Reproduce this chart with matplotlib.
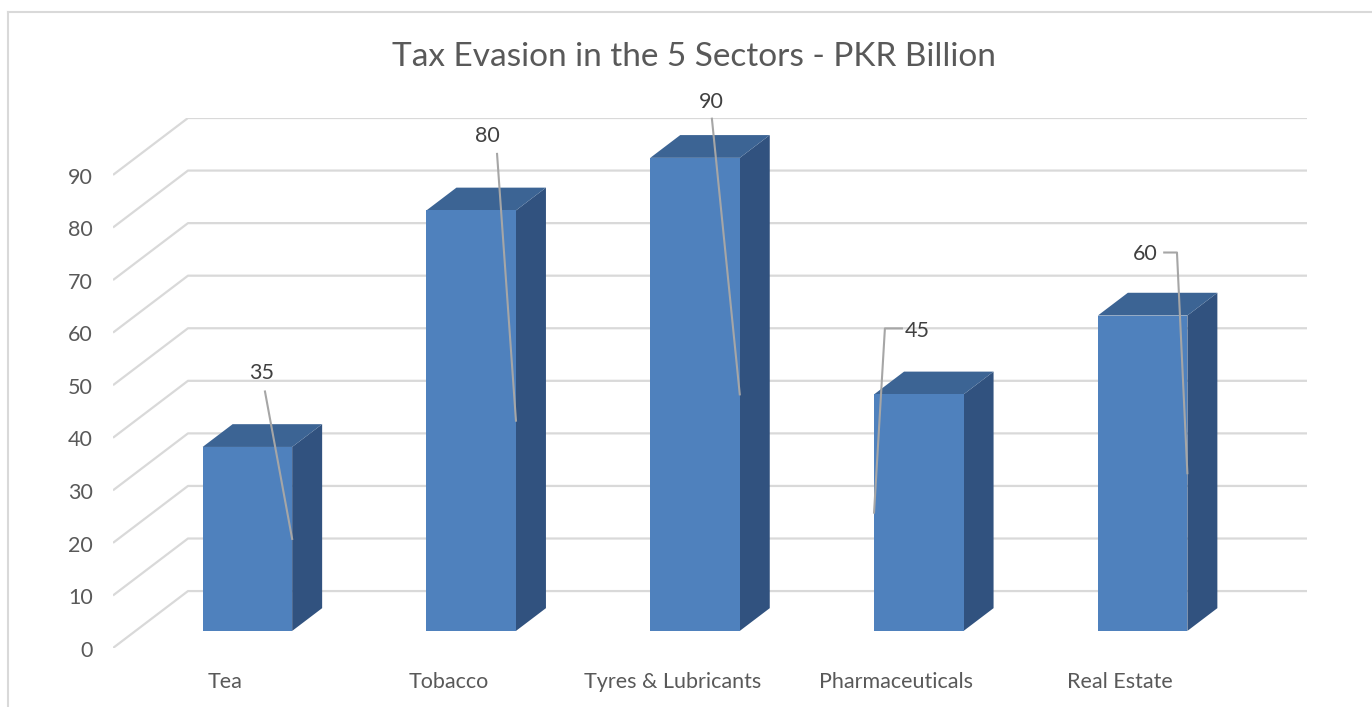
import matplotlib.pyplot as plt
from matplotlib.patches import Polygon

plt.rcParams['font.family'] = ['Lato', 'DejaVu Sans']

# data
sectors = ['Tea', 'Tobacco', 'Tyres & Lubricants', 'Pharmaceuticals', 'Real Estate']
evasion = [35, 80, 90, 45, 60]
ticks = list(range(0, 100, 10))

# where the data labels were dragged to (data coords) and their leader elbows
label_pos = [(0.666, 52.3), (1.671, 97.4), (2.672, 103.8), (3.592, 60.4), (4.611, 75.0)]
leader_top = [[(0.679, 48.8)], [(1.716, 94.0)], [(2.676, 100.7)],
              [(3.525, 60.8), (3.449, 60.8)], [(4.697, 75.24), (4.754, 75.24)]]
leader_side = ['right', 'right', 'right', 'left', 'right']

# oblique "3d" depth vector, in data units
DX, DY = 0.335, 10.83
Z0, Z1 = 0.3, 0.7
BW = 0.4

front_c = '#4F81BD'
top_c = '#3C6494'
side_c = '#31527F'
grid_c = '#D9D9D9'
text_c = '#595959'

fig = plt.figure(figsize=(13.72, 7.07), dpi=100)
ax = fig.add_axes([113 / 1372, 59 / 707, 1194 / 1372, 530 / 707])
ax.set_xlim(0, 5 + DX)
ax.set_ylim(0, 90 + DY)
ax.axis('off')

# frame of the chart area (cut off on the right and bottom)
fig.add_artist(plt.Line2D([8 / 1372, 8 / 1372], [0, 1 - 12 / 707], color=grid_c, lw=1.5))
fig.add_artist(plt.Line2D([8 / 1372, 1], [1 - 12 / 707, 1 - 12 / 707], color=grid_c, lw=1.5))

n = len(sectors)
# side wall + back wall gridlines
for v in ticks:
    ax.plot([0, DX, n + DX], [v, v + DY, v + DY], color=grid_c, lw=1.6, zorder=1,
            solid_capstyle='butt')
    ax.text(-0.09, v - 0.5, str(v), ha='right', va='center', fontsize=15.5, color=text_c)


def P(x, y, z):
    return (x + z * DX, y + z * DY)


for i, val in enumerate(evasion):
    x0 = i + (1 - BW) / 2
    x1 = x0 + BW
    front = [P(x0, 0, Z0), P(x1, 0, Z0), P(x1, val, Z0), P(x0, val, Z0)]
    top = [P(x0, val, Z0), P(x1, val, Z0), P(x1, val, Z1), P(x0, val, Z1)]
    side = [P(x1, 0, Z0), P(x1, 0, Z1), P(x1, val, Z1), P(x1, val, Z0)]
    ax.add_patch(Polygon(side, closed=True, fc=side_c, ec='none', zorder=3))
    ax.add_patch(Polygon(top, closed=True, fc=top_c, ec='none', zorder=3))
    ax.add_patch(Polygon(front, closed=True, fc=front_c, ec='none', zorder=4))

    # category label on the front floor edge
    ax.text(i + 0.5, -6.4, sectors[i], ha='center', va='center', fontsize=15.5,
            color=text_c, clip_on=False)

    # data label with leader line down to the middle of the bar
    lx, ly = label_pos[i]
    ax.text(lx, ly, str(val), ha='center', va='center', fontsize=15.5,
            color='#404040', clip_on=False)
    ex = x1 if leader_side[i] == 'right' else x0
    end = P(ex, val / 2, Z0)
    pts = leader_top[i] + [end]
    ax.plot([p[0] for p in pts], [p[1] for p in pts], color='#A6A6A6', lw=1.5,
            zorder=5, clip_on=False)

fig.text(694 / 1372, 1 - 57 / 707, 'Tax Evasion in the 5 Sectors - PKR Billion',
         ha='center', va='center', fontsize=24, color=text_c)

fig.savefig('out.png', dpi=100)
